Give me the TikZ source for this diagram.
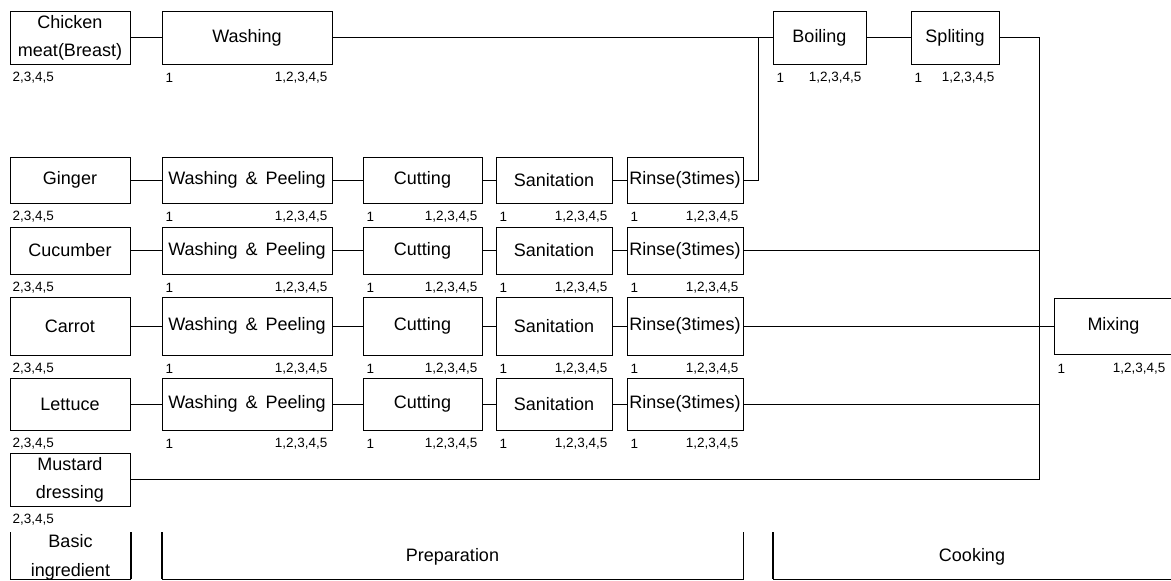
\documentclass[tikz,border=0pt]{standalone}
\usepackage{fontspec}
\setmainfont{Liberation Sans}
\begin{document}
\begin{tikzpicture}[x=1pt, y=-1pt,
        box/.style={draw, line width=1pt, inner sep=0pt, align=center, font=\fontsize{18}{28}\selectfont},
        num/.style={inner sep=0pt, font=\fontsize{13.5}{15}\selectfont},
        stage/.style={inner sep=0pt, align=center, font=\fontsize{18}{29}\selectfont},
        link/.style={line width=1pt}]
        \useasboundingbox (0,0) rectangle (1171,581);
        % CHICKEN (TOP ROW)
        \node[box, minimum width=120, minimum height=53] (chicken) at (70,37.5) {Chicken\\meat(Breast)};
        \node[box, minimum width=170, minimum height=53] (wash0) at (247,37.5) {Washing};
        \node[box, minimum width=93, minimum height=53] (boil) at (819.5,37.5) {Boiling};
        \node[box, minimum width=88, minimum height=53] (split) at (955,37.5) {Spliting};
        \node[num, anchor=west] (chicken-n) at ([xshift=3pt, yshift=-13pt]chicken.south west) {2,3,4,5};
        \foreach \s in {wash0, boil, split} {
            \node[num, anchor=west] (\s-a) at ([xshift=4pt, yshift=-13pt]\s.south west) {1};
            \node[num, anchor=east] (\s-b) at ([xshift=-5pt, yshift=-13pt]\s.south east) {1,2,3,4,5};
        }
        % VEGETABLE ROWS
        \foreach \n/\veg/\y/\h in {1/Ginger/180/46, 2/Cucumber/250.5/47, 3/Carrot/326/58, 4/Lettuce/404/52} {
            \node[box, minimum width=120, minimum height=\h] (ing\n) at (70,\y) {\veg};
            \node[box, minimum width=170, minimum height=\h] (wp\n) at (247,\y) {Washing\hspace{8pt}\&\hspace{8pt}Peeling};
            \node[box, minimum width=119, minimum height=\h] (cut\n) at (422.5,\y) {Cutting};
            \node[box, minimum width=116, minimum height=\h] (san\n) at (554,\y) {Sanitation};
            \node[box, minimum width=116, minimum height=\h] (rin\n) at (685,\y) {Rinse(3times)};
            \draw[link] (ing\n) -- (wp\n) -- (cut\n) -- (san\n) -- (rin\n);
            \node[num, anchor=west] (ing\n-n) at ([xshift=3pt, yshift=-13pt]ing\n.south west) {2,3,4,5};
            \foreach \s in {wp, cut, san, rin} {
                \node[num, anchor=west] (\s\n-a) at ([xshift=4pt, yshift=-13pt]\s\n.south west) {1};
                \node[num, anchor=east] (\s\n-b) at ([xshift=-5pt, yshift=-13pt]\s\n.south east) {1,2,3,4,5};
            }
        }
        % MUSTARD AND MIXING
        \node[box, minimum width=120, minimum height=53] (mustard) at (70,479.5) {Mustard\\dressing};
        \node[num, anchor=west] (mustard-n) at ([xshift=3pt, yshift=-13pt]mustard.south west) {2,3,4,5};
        \node[box, minimum width=119, minimum height=56] (mix) at (1113.5,326) {Mixing};
        \node[num, anchor=west] (mix-a) at ([xshift=4pt, yshift=-14pt]mix.south west) {1};
        \node[num, anchor=east] (mix-b) at ([xshift=112pt, yshift=-14pt]mix.south west) {1,2,3,4,5};
        % Connectors
        \coordinate (jn) at (758,37.5);
        \coordinate (bus) at (1039,479.5);
        \draw[link] (chicken) -- (wash0);
        \draw[link] (wash0) -- (boil);
        \draw[link] (boil) -- (split);
        \draw[link] (rin1.east) -| (jn);
        \draw[link] (split.east) -| (bus);
        \draw[link] (rin2.east) -- (rin2.east -| bus);
        \draw[link] (rin3) -- (mix);
        \draw[link] (rin4.east) -- (rin4.east -| bus);
        \draw[link] (mustard) -- (bus);
        % STAGES (bottom)
        \node[stage] (basic) at (70.5,557) {Basic\\ingredient};
        \node[stage] (prep) at (452.5,557) {Preparation};
        \node[stage] (cook) at (972,557) {Cooking};
        \draw[line width=0.8pt] (10,532) -- (10,579) -- (131,579);
        \draw[line width=2pt] (131,532) -- (131,579);
        \draw[line width=2pt] (162,532) -- (162,579);
        \draw[line width=0.8pt] (162,579) -- (743,579) -- (743,532);
        \draw[line width=2.6pt] (773,532) -- (773,579);
        \draw[line width=0.8pt] (773,579) -- (1171,579);
\end{tikzpicture}
\end{document}
